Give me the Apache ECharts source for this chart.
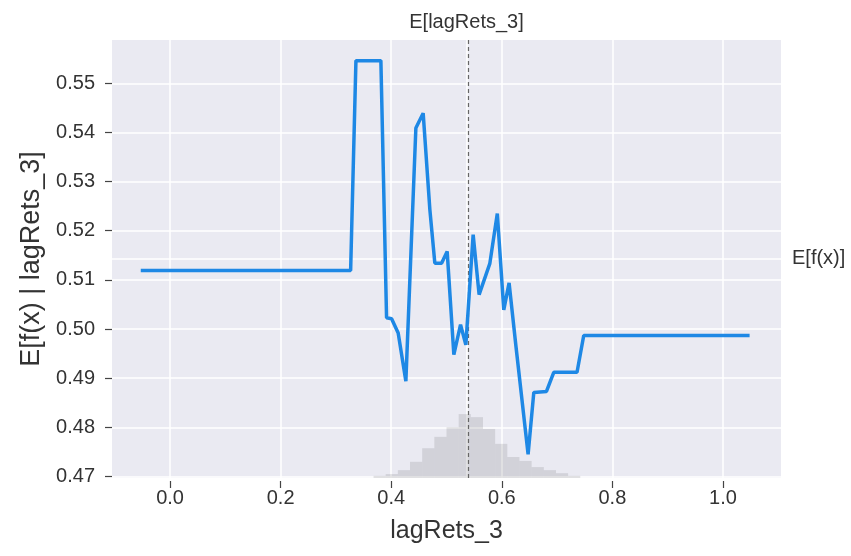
<!DOCTYPE html>
<html>
<head>
<meta charset="utf-8">
<script src="https://cdn.jsdelivr.net/npm/echarts@6/dist/echarts.min.js"></script>
<style>
  html, body { margin: 0; padding: 0; background: #ffffff; }
  #chart { width: 851px; height: 556px; }
</style>
</head>
<body>
<div id="chart"></div>
<script>
// Partial dependence of the model output on lagRets_3
const featureName = 'lagRets_3';
const xTickValues = [0.0, 0.2, 0.4, 0.6, 0.8, 1.0];
const yTickValues = [0.47, 0.48, 0.49, 0.50, 0.51, 0.52, 0.53, 0.54, 0.55];

// Expected model output as a function of the feature
const pdX = [-0.053, 0.3266, 0.3362, 0.3813, 0.3916, 0.4007, 0.4126, 0.4265, 0.4446, 0.4578,
             0.4699, 0.4789, 0.4911, 0.5012, 0.5133, 0.5254, 0.5350, 0.5482, 0.5590, 0.5783,
             0.5919, 0.6036, 0.6132, 0.6253, 0.6476, 0.6579, 0.6808, 0.6940, 0.7361, 0.7482,
             1.0482];
const pdY = [0.5119, 0.5119, 0.5546, 0.5546, 0.5023, 0.5021, 0.4992, 0.4894, 0.5409, 0.5439,
             0.5243, 0.5134, 0.5134, 0.5158, 0.4948, 0.5009, 0.4968, 0.5192, 0.5070, 0.5133,
             0.5235, 0.5039, 0.5094, 0.4968, 0.4745, 0.4871, 0.4873, 0.4912, 0.4912, 0.4987,
             0.4987];

// Reference values: feature mean and mean model output
const featureMean = 0.5362;
const modelMean = 0.5144;

// Feature histogram: 50 equal bins over [histMin, histMax]
const histMin = -0.05;
const histMax = 1.05;
const histCounts = [0, 0, 0, 0, 0, 0, 0, 0, 0, 0,
                    0, 0, 0, 0, 0, 0, 0, 0, 0, 5,
                    9, 18, 37, 68, 94, 116, 146, 139, 112, 78,
                    48, 39, 25, 18, 11, 5, 0, 0, 0, 0,
                    0, 0, 0, 0, 0, 0, 0, 0, 0, 0];
const sampleCount = 1000;

const xRange = [-0.105, 1.105];
const yRange = [0.4697, 0.5588];

const FONT = '"Liberation Sans", Arial, sans-serif';
const TEXT = '#333333';

const lineData = pdX.map((x, i) => [x, pdY[i]]);
const binWidth = (histMax - histMin) / histCounts.length;
const histData = histCounts.map((c, i) => [histMin + i * binWidth, histMin + (i + 1) * binWidth, c]);

const chart = echarts.init(document.getElementById('chart'), null, { renderer: 'canvas' });

chart.setOption({
  animation: false,
  backgroundColor: '#ffffff',
  grid: {
    left: 112, right: 70, top: 40, bottom: 78,
    show: true, backgroundColor: '#EAEAF2', borderWidth: 0
  },
  xAxis: [
    {
      type: 'value', position: 'bottom', min: xRange[0], max: xRange[1], offset: 3,
      axisLine: { show: false, onZero: false },
      axisTick: { show: true, length: 7, customValues: xTickValues, lineStyle: { color: '#444', width: 1.2 } },
      axisLabel: {
        customValues: xTickValues, formatter: v => v.toFixed(1),
        fontSize: 20, color: TEXT, fontFamily: FONT, margin: 7
      },
      splitLine: { show: true, lineStyle: { color: '#ffffff', width: 1.5 } },
      name: featureName, nameLocation: 'middle', nameGap: 38,
      nameTextStyle: { fontSize: 25, color: TEXT, fontFamily: FONT }
    },
    {
      type: 'value', position: 'top', min: xRange[0], max: xRange[1],
      axisLine: { show: false, onZero: false },
      axisTick: { show: false, customValues: [featureMean] },
      axisLabel: {
        customValues: [featureMean], formatter: () => 'E[' + featureName + ']',
        fontSize: 20, color: TEXT, fontFamily: FONT, margin: 8
      },
      splitLine: { show: true, lineStyle: { color: '#ffffff', width: 1.5 } }
    }
  ],
  yAxis: [
    {
      type: 'value', position: 'left', min: yRange[0], max: yRange[1],
      axisLine: { show: false, onZero: false },
      axisTick: { show: true, length: 7, customValues: yTickValues, lineStyle: { color: '#444', width: 1.2 } },
      axisLabel: {
        customValues: yTickValues, formatter: v => v.toFixed(2),
        fontSize: 20, color: TEXT, fontFamily: FONT, margin: 17
      },
      splitLine: { show: true, lineStyle: { color: '#ffffff', width: 1.5 } },
      name: 'E[f(x) | ' + featureName + ']', nameLocation: 'middle', nameGap: 64, nameRotate: 90,
      nameTextStyle: { fontSize: 27, color: TEXT, fontFamily: FONT }
    },
    {
      type: 'value', min: 0, max: sampleCount, show: false,
      axisLine: { onZero: false }
    },
    {
      type: 'value', position: 'right', min: yRange[0], max: yRange[1],
      axisLine: { show: false, onZero: false },
      axisTick: { show: false, customValues: [modelMean] },
      axisLabel: {
        customValues: [modelMean], formatter: () => 'E[f(x)]',
        fontSize: 20, color: TEXT, fontFamily: FONT, margin: 11
      },
      splitLine: { show: true, lineStyle: { color: '#ffffff', width: 1.5 } }
    }
  ],
  series: [
    {
      name: 'histogram', type: 'custom', xAxisIndex: 0, yAxisIndex: 1,
      data: histData, encode: { x: [0, 1], y: 2 }, z: 2, silent: true,
      renderItem: (params, api) => {
        const p0 = api.coord([api.value(0), 0]);
        const p1 = api.coord([api.value(1), api.value(2)]);
        return {
          type: 'rect',
          shape: { x: p0[0], y: p1[1], width: p1[0] - p0[0], height: p0[1] - p1[1] },
          style: { fill: 'rgba(0,0,0,0.1)' }
        };
      }
    },
    {
      name: 'partial dependence', type: 'line', xAxisIndex: 0, yAxisIndex: 0,
      data: lineData, showSymbol: false, symbol: 'none', z: 5,
      lineStyle: { color: '#1E88E5', width: 3.5 },
      markLine: {
        silent: true, symbol: 'none', z: 3,
        label: { show: false },
        lineStyle: { color: '#666666', type: [4, 3], width: 1.2 },
        data: [{ xAxis: featureMean }]
      }
    }
  ]
});
</script>
</body>
</html>
